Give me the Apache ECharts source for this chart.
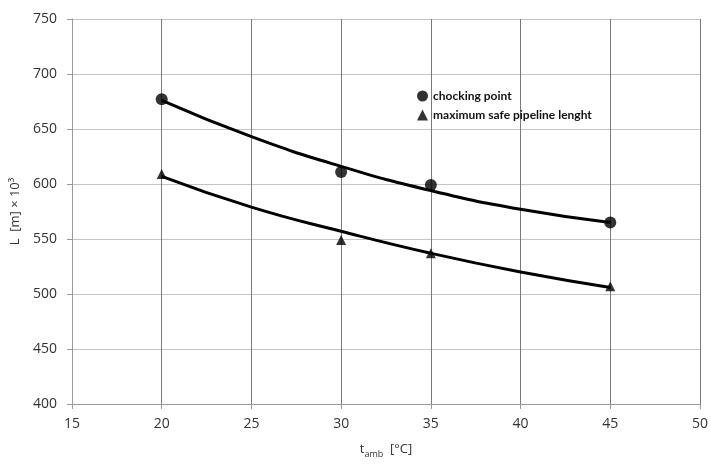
<!DOCTYPE html>
<html>
<head>
<meta charset="utf-8">
<script src="https://cdn.jsdelivr.net/npm/echarts@6/dist/echarts.min.js"></script>
<style>html,body{margin:0;padding:0;background:#fff;overflow:hidden;}#c{width:100vw;height:100vh;}</style>
</head>
<body>
<div id="c"></div>
<script>
var xTicks = [15, 20, 25, 30, 35, 40, 45, 50];
var yTicks = [400, 450, 500, 550, 600, 650, 700, 750];
var tAmb = [20, 30, 35, 45];
var chockingPoint = [677, 611, 599, 565];
var maxSafeLength = [609, 549, 537, 507];
var trendX = [20, 25, 30, 35, 40, 45];
var chockingTrend = [676, 643, 616, 594, 577, 565];
var safeTrend = [607, 579, 557, 537, 520, 506];

function pairs(xs, ys) { return xs.map(function (x, i) { return [x, ys[i]]; }); }

var chart = echarts.init(document.getElementById('c'));
chart.setOption({
  animation: false,
  backgroundColor: '#fff',
  textStyle: { fontFamily: 'Open Sans' },
  grid: { left: 72, right: 7, top: 19, bottom: 53, containLabel: false },
  legend: {
    orient: 'vertical', left: 412, top: 85, itemGap: 7, itemWidth: 11, itemHeight: 11,
    textStyle: { fontFamily: 'Lato', fontWeight: 'bold', fontSize: 12, color: '#111' },
    data: [
      { name: 'chocking point', icon: 'circle' },
      { name: 'maximum safe pipeline lenght', icon: 'triangle' }
    ]
  },
  xAxis: {
    type: 'value', min: xTicks[0], max: xTicks[xTicks.length - 1], interval: 5,
    name: '{t|t}{s|amb}{t|  [°C]}', nameLocation: 'middle', nameGap: 35,
    nameTextStyle: {
      rich: {
        t: { fontSize: 13, color: '#333', fontFamily: 'Open Sans', lineHeight: 20, verticalAlign: 'middle' },
        s: { fontSize: 9, color: '#333', fontFamily: 'Open Sans', lineHeight: 20, verticalAlign: 'bottom' }
      }
    },
    axisLine: { show: true, lineStyle: { color: '#9a9a9a', width: 1 } },
    axisTick: { show: true, length: 5, lineStyle: { color: '#9a9a9a' } },
    axisLabel: { fontSize: 14, color: '#333', margin: 13 },
    splitLine: { show: true, lineStyle: { color: '#7a7a7a', width: 1 } }
  },
  yAxis: {
    type: 'value', min: yTicks[0], max: yTicks[yTicks.length - 1], interval: 50,
    name: 'L  [m] × 10³', nameLocation: 'middle', nameGap: 43, nameRotate: 90,
    nameTextStyle: { fontSize: 13, color: '#333' },
    axisLine: { show: true, lineStyle: { color: '#9a9a9a', width: 1 } },
    axisTick: { show: true, length: 5, lineStyle: { color: '#9a9a9a' } },
    axisLabel: { fontSize: 14, color: '#333', margin: 15 },
    splitLine: { show: true, lineStyle: { color: '#c4c4c4', width: 1 } }
  },
  series: [
    {
      type: 'line', data: pairs(trendX, chockingTrend), smooth: true, showSymbol: false,
      lineStyle: { color: '#000', width: 3 }, z: 3, silent: true
    },
    {
      type: 'line', data: pairs(trendX, safeTrend), smooth: true, showSymbol: false,
      lineStyle: { color: '#000', width: 3 }, z: 3, silent: true
    },
    {
      name: 'chocking point', type: 'scatter', symbol: 'circle', symbolSize: 12,
      data: pairs(tAmb, chockingPoint), itemStyle: { color: '#000' }, z: 4
    },
    {
      name: 'maximum safe pipeline lenght', type: 'scatter', symbol: 'triangle', symbolSize: 10,
      data: pairs(tAmb, maxSafeLength), itemStyle: { color: '#000' }, z: 4
    }
  ]
});
</script>
</body>
</html>
